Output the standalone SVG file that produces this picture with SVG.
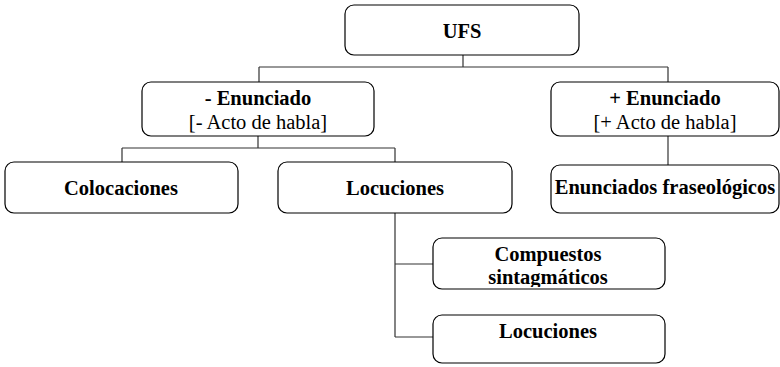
<svg xmlns="http://www.w3.org/2000/svg" width="780" height="367" viewBox="0 0 780 367">
<style>
.box{fill:#fff;stroke:#000;stroke-width:1.2}
text{font-family:'Liberation Serif','Times New Roman',Times,serif;font-size:20.5px;text-anchor:middle;fill:#000}
.b{font-weight:bold}
.c{fill:none;stroke:#333;stroke-width:1.2}
</style>
<defs>
<clipPath id="clipC"><rect x="433" y="238" width="232" height="49"/></clipPath>
</defs>
<rect width="780" height="367" fill="#fff"/>
<g id="connectors">
<path class="c" d="M463 55V67M259 67H668M259 67V82M668 67V82"/>
<path class="c" d="M258 136V148M122 148H395M122 148V162M395 148V162"/>
<path class="c" d="M668 136V165"/>
<path class="c" d="M395 213V337M395 264H433M395 337H433"/>
</g>
<g id="ufs">
<rect class="box" x="345" y="5" width="234" height="50" rx="9"/>
<text class="b" x="462" y="38">UFS</text>
</g>
<g id="menunciado">
<rect class="box" x="142" y="82" width="232" height="54" rx="9"/>
<text class="b" x="258" y="105">- Enunciado</text>
<text x="258" y="129">[- Acto de habla]</text>
</g>
<g id="penunciado">
<rect class="box" x="551" y="82" width="228" height="54" rx="9"/>
<text class="b" x="665" y="105">+ Enunciado</text>
<text x="665" y="129">[+ Acto de habla]</text>
</g>
<g id="colocaciones">
<rect class="box" x="5" y="162" width="233" height="51" rx="9"/>
<text class="b" x="121" y="195">Colocaciones</text>
</g>
<g id="locuciones">
<rect class="box" x="278" y="162" width="234" height="51" rx="9"/>
<text class="b" x="395" y="195">Locuciones</text>
</g>
<g id="fraseologicos">
<rect class="box" x="551" y="165" width="228" height="48" rx="9"/>
<text class="b" x="665" y="194">Enunciados fraseológicos</text>
</g>
<g id="compuestos">
<rect class="box" x="433" y="238" width="232" height="51" rx="9"/>
<g clip-path="url(#clipC)">
<text class="b" x="548" y="261">Compuestos</text>
<text class="b" x="548" y="284">sintagmáticos</text>
</g>
</g>
<g id="locuciones2">
<rect class="box" x="433" y="315" width="232" height="48" rx="9"/>
<text class="b" x="548" y="338">Locuciones</text>
</g>
</svg>
